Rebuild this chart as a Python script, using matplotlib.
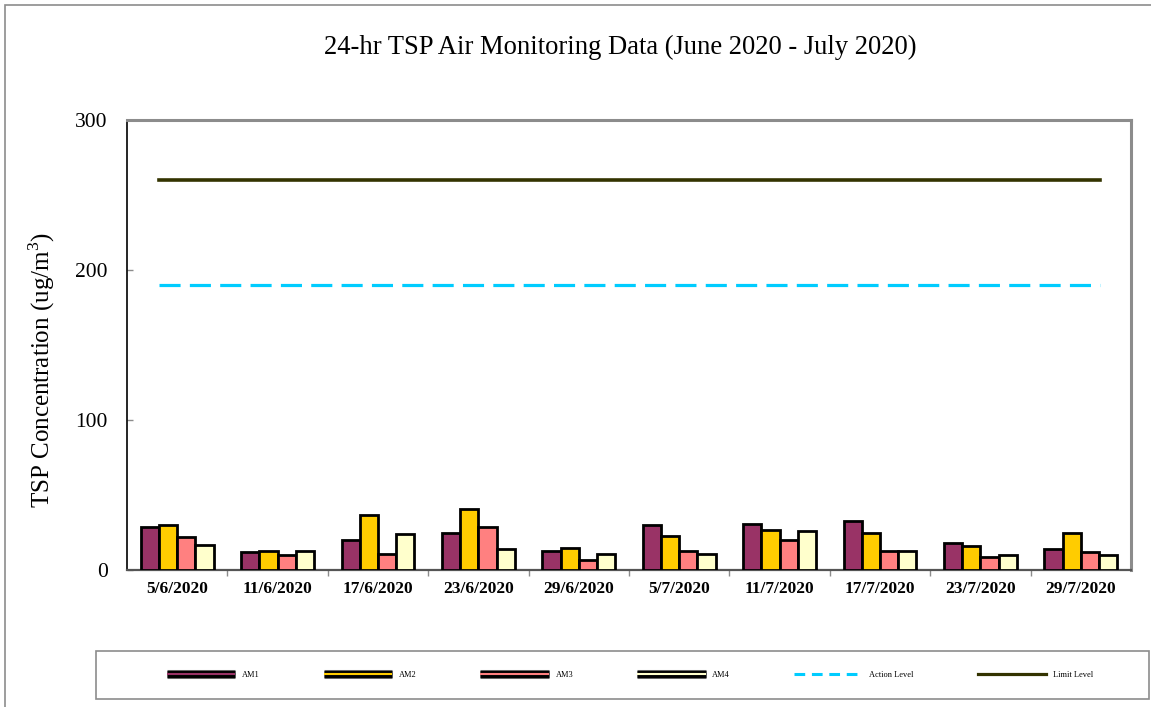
#!/usr/bin/env python3
"""24-hr TSP air monitoring bar chart, June - July 2020."""

import matplotlib
matplotlib.use('Agg')
import matplotlib.pyplot as plt
import matplotlib.patheffects as pe
from matplotlib.lines import Line2D
from matplotlib.patches import Rectangle
import numpy as np

# data
dates = ['5/6/2020', '11/6/2020', '17/6/2020', '23/6/2020', '29/6/2020',
         '5/7/2020', '11/7/2020', '17/7/2020', '23/7/2020', '29/7/2020']
am1 = [29, 12, 20, 25, 13, 30, 31, 33, 18, 14]
am2 = [30, 13, 37, 41, 15, 23, 27, 25, 16, 25]
am3 = [22, 10, 11, 29, 7, 13, 20, 13, 8.5, 12]
am4 = [17, 13, 24, 14, 11, 11, 26, 13, 10, 10]
station_names = ['AM1', 'AM2', 'AM3', 'AM4']
action_level = 190
limit_level = 260
y_ticks = [0, 100, 200, 300]

COLORS = ['#993366', '#ffcc00', '#ff8080', '#ffffcc']
ACTION_C = '#00ccff'
LIMIT_C = '#333300'
GREY = '#8c8c8c'
SERIF = ['Liberation Serif', 'DejaVu Serif']

plt.rcParams['mathtext.fontset'] = 'custom'
plt.rcParams['mathtext.rm'] = 'Liberation Serif'

W, H = 1151, 707
fig = plt.figure(figsize=(W / 100, H / 100), dpi=100)
fig.patch.set_facecolor('white')

# outer chart border (only left/top are inside the picture)
fig.add_artist(Rectangle((5 / W, -0.1), 1.2, 1.1 - 5 / H, transform=fig.transFigure,
                         facecolor='none', edgecolor=GREY, lw=1.2))

ax = fig.add_axes([127 / W, 1 - 570 / H, 1004 / W, 450 / H])

x = np.arange(len(dates))
bw = 0.181
series = [am1, am2, am3, am4]
for i, vals in enumerate(series):
    ax.bar(x + (i - 1.5) * bw, vals, width=bw, color=COLORS[i],
           edgecolor='black', linewidth=2.0, zorder=3)

# reference level lines
x_line = [-0.18, len(dates) - 1 + 0.19]
ax.plot(x_line, [action_level] * 2, color=ACTION_C, lw=2.3, dashes=[6.6, 2.9],
        dash_capstyle='butt', zorder=2)
ax.plot(x_line, [limit_level] * 2, color=LIMIT_C, lw=2.6, zorder=2)

ax.set_xlim(-0.5, len(dates) - 0.5)
ax.set_ylim(0, 300)
ax.set_yticks(y_ticks)
ax.set_yticklabels([str(t) for t in y_ticks], fontsize=15.5, family=SERIF)
ax.tick_params(axis='y', direction='in', length=4, width=1, color=GREY, pad=14)

ax.set_xticks(x)
ax.set_xticklabels(dates, fontsize=12.5, fontweight='bold', family=SERIF)
ax.tick_params(axis='x', which='major', length=0, pad=8)
ax.set_xticks(np.arange(0.5, len(dates) - 0.5, 1.0), minor=True)
ax.tick_params(axis='x', which='minor', direction='out', length=4, width=1, color=GREY)

ax.set_ylabel('TSP Concentration (ug/m$^3$)', fontsize=18, family=SERIF)
ax.yaxis.set_label_coords(-0.07, 0.444)

for side in ('top', 'right'):
    ax.spines[side].set_color(GREY)
    ax.spines[side].set_linewidth(2.2)
ax.spines['left'].set_color('black')
ax.spines['left'].set_linewidth(1.2)
ax.spines['bottom'].set_color('#555555')
ax.spines['bottom'].set_linewidth(1.6)

fig.text(620 / W, 1 - 47 / H, '24-hr TSP Air Monitoring Data (June 2020 - July 2020)',
         ha='center', va='center', fontsize=19.2, family=SERIF)

# legend box
fig.add_artist(Rectangle((96 / W, 1 - 699 / H), 1053 / W, 48 / H, transform=fig.transFigure,
                         facecolor='white', edgecolor=GREY, lw=1.2))
handles = []
for c in COLORS:
    handles.append(Line2D([], [], color=c, lw=1.5, solid_capstyle='butt',
                          path_effects=[pe.Stroke(linewidth=6.5, foreground='#666666',
                                                  capstyle='butt'),
                                        pe.Stroke(linewidth=5.0, foreground='black',
                                                  capstyle='butt'),
                                        pe.Normal()]))
handles.append(Line2D([], [], color=ACTION_C, lw=2.2, dashes=[3.5, 2.2]))
handles.append(Line2D([], [], color=LIMIT_C, lw=2.3))
labels = station_names + ['Action Level', 'Limit Level']
fig.legend(handles, labels, loc='center', bbox_to_anchor=(630 / W, 1 - 675 / H),
           ncol=6, frameon=False, prop={'family': SERIF, 'size': 6},
           handlelength=8.2, handletextpad=0.8, columnspacing=7.7)

fig.savefig('out.png', dpi=100, facecolor='white')
